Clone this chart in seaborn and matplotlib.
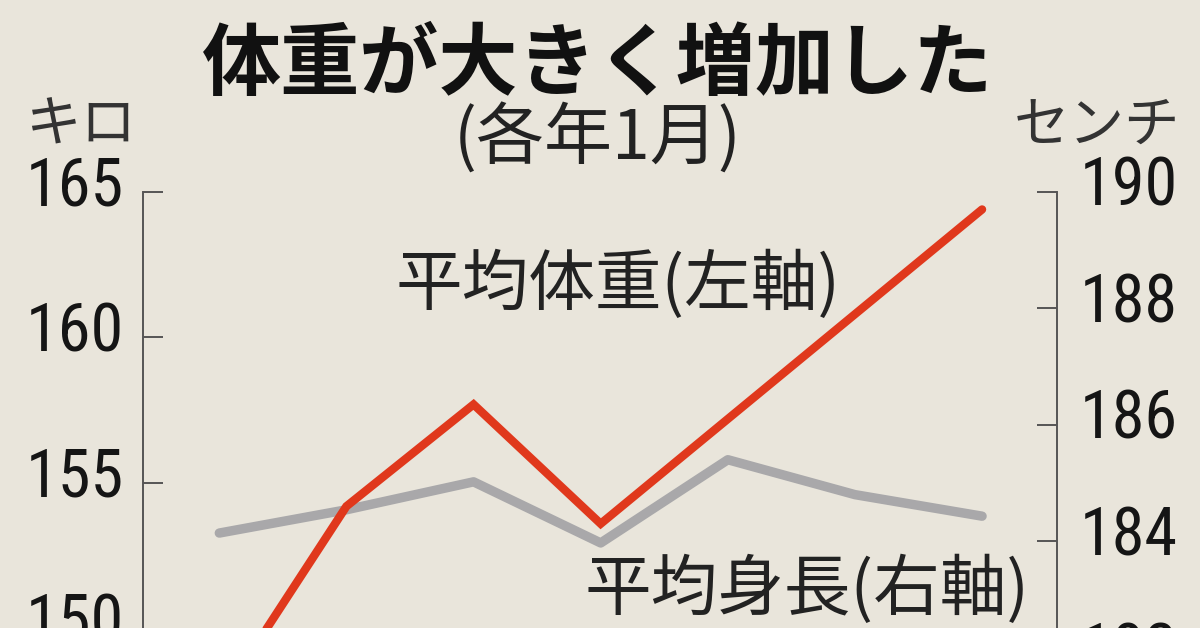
import matplotlib
matplotlib.use("Agg")
import matplotlib.pyplot as plt
import matplotlib.font_manager as fm
import matplotlib.transforms as mtransforms
from matplotlib.textpath import TextPath
import pandas as pd
import seaborn as sns

# values (January of each year)
years = [2017, 2018, 2019, 2020, 2021, 2022, 2023]
avg_weight = [147.5, 154.2, 157.7, 153.6, 157.2, 160.8, 164.4]   # kg, left axis
avg_height = [184.14, 184.54, 185.02, 183.97, 185.40, 184.80, 184.43]  # cm, right axis

title = "体重が大きく増加した"
subtitle = "(各年1月)"
left_unit = "キロ"
right_unit = "センチ"
weight_label = "平均体重(左軸)"
height_label = "平均身長(右軸)"

left_ticks = [145, 150, 155, 160, 165]
right_ticks = [180, 182, 184, 186, 188, 190]

bg = "#E9E5DB"
red = "#E0381C"
grey = "#A9A8AA"
axis_col = "#555555"

sns.set_theme(style="ticks")
plt.rcParams["font.family"] = ["Liberation Sans", "Noto Sans CJK JP", "DejaVu Sans"]
jp = ["Noto Sans CJK JP", "DejaVu Sans"]

SANS = ["Liberation Sans", "Noto Sans", "Roboto", "Open Sans", "Lato", "Inter", "DejaVu Sans"]
NARROW_WORDS = {"", "Condensed", "Narrow", "SemiCondensed", "Semi Condensed",
                "ExtraCondensed", "Extra Condensed"}


# the numbers in the original are set in a narrow sans (about 88 px wide, 52 px tall
# for "165"); pick the installed plain sans face closest to that shape
def number_font(target_ratio=88 / 52, digit_px=48):
    best, best_err, best_h = None, None, None
    for f in fm.fontManager.ttflist:
        if f.style != "normal" or f.weight not in (400, "normal", "regular", "book"):
            continue
        base = next((b for b in SANS if f.name.startswith(b)), None)
        if base is None or f.name[len(base):].strip() not in NARROW_WORDS:
            continue
        try:
            prop = fm.FontProperties(fname=f.fname)
            ext = TextPath((0, 0), "165", size=1, prop=prop).get_extents()
        except Exception:
            continue
        if ext.height <= 0:
            continue
        err = abs(ext.width / ext.height - target_ratio)
        if best_err is None or err < best_err:
            best, best_err, best_h = prop, err, ext.height
    if best is None:
        best, best_h = fm.FontProperties(family="Liberation Sans"), 0.78
    best.set_size(digit_px / best_h * 72 / 100)
    return best


num_prop = number_font()

df = pd.DataFrame({"year": years, "weight": avg_weight, "height": avg_height})

fig = plt.figure(figsize=(12, 6.28), dpi=100)
fig.patch.set_facecolor(bg)

# axes run past the bottom edge, like the cropped original
ax = fig.add_axes([0.1192, -0.2325, 0.7617, 0.9268])
ax2 = ax.twinx()
ax.set_zorder(ax2.get_zorder() + 1)
ax.patch.set_visible(False)
ax2.patch.set_visible(False)

sns.lineplot(data=df, x="year", y="height", ax=ax2, color=grey, linewidth=6.8,
             solid_capstyle="round", solid_joinstyle="round")
sns.lineplot(data=df, x="year", y="weight", ax=ax, color=red, linewidth=6,
             solid_capstyle="round", solid_joinstyle="miter")

ax.set_xlim(years[0] - 0.6, years[-1] + 0.59)
ax.set_ylim(145, 165)
ax2.set_ylim(180, 190)
ax.set_yticks(left_ticks)
ax2.set_yticks(right_ticks)

for a in (ax, ax2):
    a.set_xlabel("")
    a.set_ylabel("")
    a.tick_params(axis="x", bottom=False, labelbottom=False)
    for s in ("top", "bottom", "left", "right"):
        a.spines[s].set_visible(False)

ax.spines["left"].set_visible(True)
ax.spines["left"].set_color(axis_col)
ax.spines["left"].set_linewidth(1.4)
ax2.spines["right"].set_visible(True)
ax2.spines["right"].set_color(axis_col)
ax2.spines["right"].set_linewidth(1.4)

ax.tick_params(axis="y", direction="in", length=14.4, width=1.4, color=axis_col,
               pad=14, labelcolor="#151515")
ax2.tick_params(axis="y", direction="in", length=14.4, width=1.4, color=axis_col,
                pad=16.5, labelcolor="#151515")

# numbers sit a little above their ticks in the original
lift = mtransforms.ScaledTranslation(0, 11 / 100, fig.dpi_scale_trans)
for lab in ax.get_yticklabels() + ax2.get_yticklabels():
    lab.set_fontproperties(num_prop)
    lab.set_transform(lab.get_transform() + lift)

# titles and labels
fig.text(598 / 1200, 1 - 66 / 628, title, family=jp, fontsize=57, fontweight="bold",
         ha="center", va="center", color="#111111")
fig.text(598 / 1200, 1 - 140 / 628, subtitle, family=jp, fontsize=49,
         ha="center", va="center", color="#222222")
fig.text(25 / 1200, 1 - 126 / 628, left_unit, family=jp, fontsize=40,
         ha="left", va="center", color="#333333")
fig.text(1180 / 1200, 1 - 126 / 628, right_unit, family=jp, fontsize=40,
         ha="right", va="center", color="#333333")
fig.text(618 / 1200, 1 - 285 / 628, weight_label, family=jp, fontsize=48,
         ha="center", va="center", color="#222222")
fig.text(807 / 1200, 1 - 590 / 628, height_label, family=jp, fontsize=48,
         ha="center", va="center", color="#222222")

fig.savefig("out.png", dpi=100, facecolor=bg)
